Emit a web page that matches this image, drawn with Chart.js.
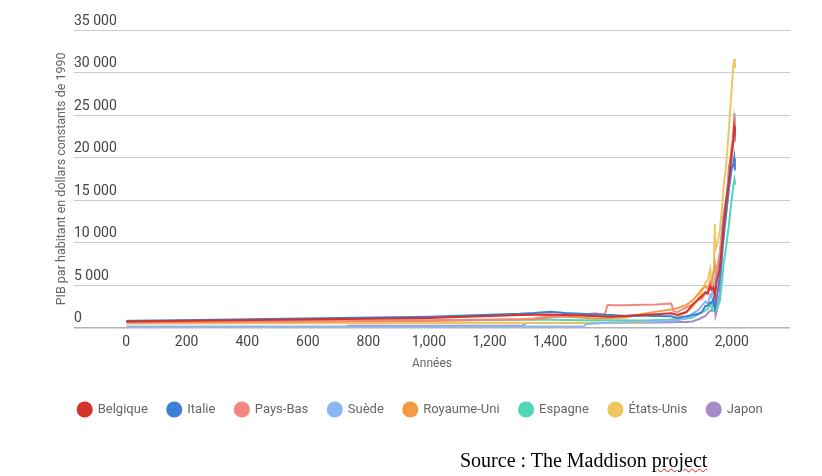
<!DOCTYPE html>
<html lang="fr">
<head>
<meta charset="utf-8">
<title>PIB par habitant - Maddison</title>
<script src="https://cdn.jsdelivr.net/npm/chart.js@4.4.0/dist/chart.umd.min.js"></script>
<style>
    body { margin: 0; background: #fff; }
    #wrap { position: relative; width: 822px; height: 476px; }
    #source {
        position: absolute;
        left: 460px;
        top: 449px;
        font-family: "Times New Roman", "Liberation Serif", serif;
        font-size: 20px;
        color: #000;
        white-space: nowrap;
    }
    #source .typo { text-decoration: underline wavy #e02020; text-decoration-thickness: 1px; }
</style>
</head>
<body>
<div id="wrap">
    <canvas id="chartPib" width="822" height="476"></canvas>
    <div id="source">Source : The Maddison <span class="typo">project</span></div>
</div>
<script>
// Years shared by all series (null = no value for that year)
const years = [1, 730, 1000, 1300, 1310, 1320, 1348, 1400, 1450, 1500, 1510,
    1520, 1550, 1580, 1590, 1600, 1650, 1700, 1750, 1800, 1808, 1820,
    1850, 1870, 1890, 1900, 1913, 1920, 1929, 1933, 1939, 1941, 1944,
    1946, 1950, 1960, 1970, 1973, 1980, 1990, 2000, 2005, 2008, 2010];

const belgique = [750, null, 1150, 1500, null, null, null, 1550, null, 1450, null,
    null, null, null, null, 1300, null, 1500, 1600, 1700, null, 1500,
    1850, 2700, 3400, 3700, 4200, 4000, 4900, 4500, 4700, null, 3800,
    4400, 5460, 6950, 10600, 12170, 14500, 17200, 20700, 22000, 23650, 23300];

const italie = [800, null, 1300, 1650, null, null, 1750, 1900, 1750, 1650, null,
    null, null, null, null, 1500, 1400, 1450, 1400, 1350, null, 1150,
    1350, 1500, 1650, 1800, 2560, 2600, 3000, 2900, 3400, null, 2300,
    2500, 3500, 5900, 9700, 10600, 13100, 16300, 18800, 19200, 19900, 18500];

const paysBas = [650, null, 900, null, null, null, 1000, 1200, null, 1500, null,
    null, 1700, 1500, 2700, 2650, 2650, 2700, 2750, 2850, 1900, 1850,
    2400, 2750, 3300, 3400, 4050, 4200, 5200, 4800, 5000, null, 3000,
    4500, 6000, 8300, 11900, 13100, 14700, 17300, 21600, 22400, 24700, 24300];

const suede = [150, null, null, null, null, null, null, null, null, 150, 150,
    450, 500, 550, 550, 600, 650, 700, 750, 800, null, 900,
    1100, 1660, 2100, 2560, 3100, 2800, 3900, 3600, 4850, null, 5600,
    6000, 6740, 8690, 12700, 13500, 14900, 17700, 20300, 22800, 24500, 25200];

const royaumeUni = [600, null, 800, 1000, null, null, 1100, 1400, 1300, 1200, null,
    null, 1100, null, null, 1150, 1200, 1600, 1900, 2150, null, 2300,
    2700, 3200, 4000, 4500, 4900, 4550, 5500, 5300, 6200, null, 7500,
    6700, 6940, 8650, 10800, 12000, 12900, 16400, 19800, 22000, 24300, 23200];

const espagne = [820, null, 850, 950, null, null, null, 950, null, 900, null,
    null, null, null, null, 900, null, 850, null, 950, null, 1000,
    1100, 1200, 1600, 1800, 2050, 2200, 2700, 2500, 2000, null, 2100,
    2100, 2190, 3070, 6300, 7660, 9200, 12000, 15300, 16800, 17400, 16800];

const etatsUnis = [500, null, 550, null, null, null, null, null, null, 600, null,
    null, null, null, null, 600, 600, 550, 800, 1000, null, 1260,
    1850, 2450, 3400, 4100, 5300, 5550, 6900, 4800, 6600, 8200, 12200,
    9200, 9560, 11300, 15000, 16700, 18600, 23200, 28500, 30800, 31600, 30500];

const japon = [null, 250, 250, 250, 250, 550, null, 550, null, 550, null,
    null, null, null, null, 600, null, 600, null, 650, null, 670,
    680, 740, 1000, 1180, 1390, 1700, 2030, 2000, 2800, 2900, 2700,
    1400, 1920, 3990, 9700, 11400, 13400, 18800, 20700, 21900, 22500, 21900];

const countries = ['Belgique', 'Italie', 'Pays-Bas', 'Suède', 'Royaume-Uni', 'Espagne', 'États-Unis', 'Japon'];
const series = [belgique, italie, paysBas, suede, royaumeUni, espagne, etatsUnis, japon];
const colors = ['#d2342c', '#3d7fd8', '#f28782', '#8ab8f5', '#f29b43', '#4fd7b8', '#f0c660', '#a68bc9'];

const xTicks = [0, 200, 400, 600, 800, 1000, 1200, 1400, 1600, 1800, 2000];

const datasets = countries.map((name, i) => ({
    label: name,
    data: years.map((yr, j) => ({ x: yr, y: series[i][j] })),
    borderColor: colors[i],
    backgroundColor: colors[i],
    borderWidth: 2,
    pointRadius: 0,
    pointHoverRadius: 0,
    tension: 0,
    spanGaps: true
}));

const font = 'Roboto, "Noto Sans", sans-serif';

const chartPib = new Chart(document.getElementById('chartPib'), {
    type: 'line',
    data: { datasets: datasets },
    options: {
        responsive: false,
        animation: false,
        layout: { padding: { top: 30, left: 51, right: 32, bottom: 50 } },
        scales: {
            x: {
                type: 'linear',
                min: -172,
                max: 2192,
                afterBuildTicks: (axis) => { axis.ticks = xTicks.map(v => ({ value: v })); },
                grid: { display: false, drawTicks: false },
                border: { display: false },
                ticks: {
                    autoSkip: false,
                    maxRotation: 0,
                    padding: 6,
                    color: '#444',
                    font: { family: font, size: 14 },
                    callback: (v) => v.toLocaleString('en-US')
                },
                title: {
                    display: true,
                    text: 'Années',
                    color: '#666',
                    font: { family: font, size: 12 },
                    padding: { top: 0, bottom: 12 }
                }
            },
            y: {
                min: 0,
                max: 35000,
                ticks: {
                    stepSize: 5000,
                    mirror: true,
                    padding: 0,
                    labelOffset: -9,
                    color: '#444',
                    font: { family: font, size: 14 },
                    callback: (v) => String(v).replace(/\B(?=(\d{3})+(?!\d))/g, ' ')
                },
                grid: {
                    drawTicks: false,
                    color: (c) => c.tick && c.tick.value === 0 ? '#b4b4b4' : '#cccccc',
                    lineWidth: (c) => c.tick && c.tick.value === 0 ? 1.5 : 1
                },
                border: { display: false },
                title: {
                    display: true,
                    text: 'PIB par habitant en dollars constants de 1990',
                    color: '#666',
                    font: { family: font, size: 12.5 },
                    padding: { top: 3, bottom: 5 }
                }
            }
        },
        plugins: {
            legend: {
                position: 'bottom',
                labels: {
                    usePointStyle: true,
                    pointStyle: 'circle',
                    boxHeight: 10,
                    padding: 20,
                    color: '#666',
                    font: { family: font, size: 13 }
                }
            },
            tooltip: { enabled: false }
        }
    }
});
</script>
</body>
</html>
